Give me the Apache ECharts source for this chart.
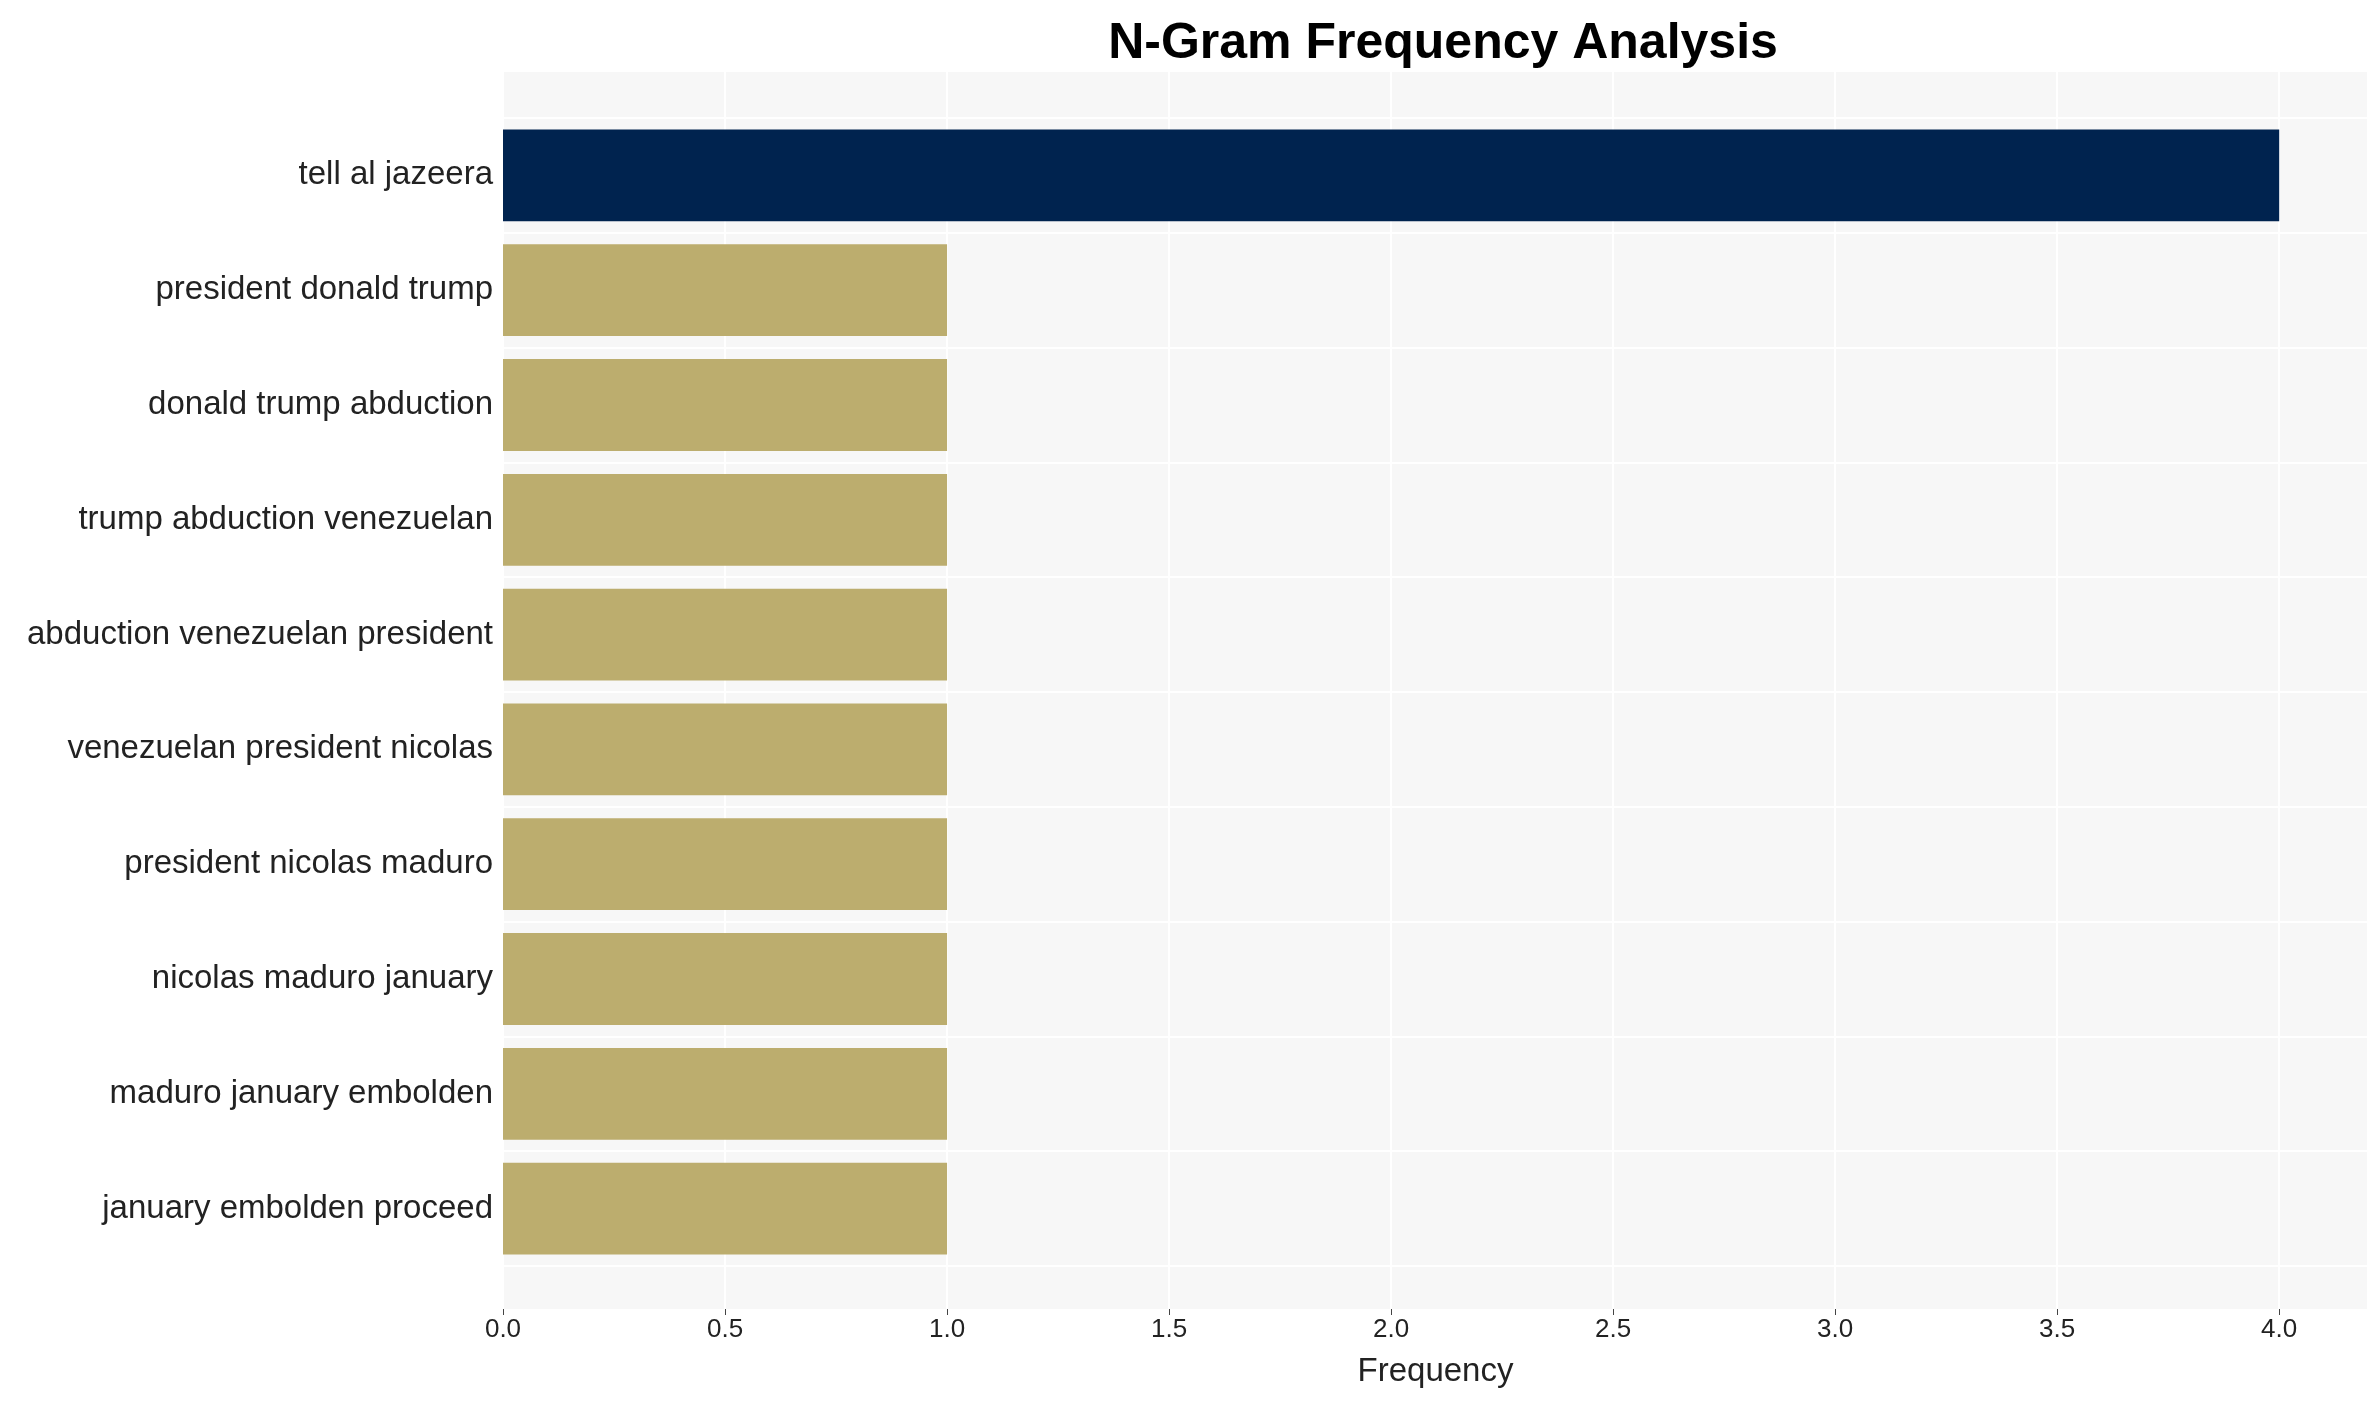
<!DOCTYPE html>
<html>
<head>
<meta charset="utf-8">
<script src="https://cdn.jsdelivr.net/npm/echarts@6/dist/echarts.min.js"></script>
<style>html,body{margin:0;padding:0;background:#fff}#chart{width:2380px;height:1402px}</style>
</head>
<body>
<div id="chart"></div>
<script>
// top to bottom as in the picture
const categories = ['tell al jazeera', 'president donald trump', 'donald trump abduction', 'trump abduction venezuelan',
    'abduction venezuelan president', 'venezuelan president nicolas', 'president nicolas maduro',
    'nicolas maduro january', 'maduro january embolden', 'january embolden proceed'];
const frequencies = [4, 1, 1, 1, 1, 1, 1, 1, 1, 1];

const font = 'Liberation Sans, Arial';
let chart = echarts.init(document.getElementById('chart'));
chart.setOption({
    title: {
        text: 'N-Gram Frequency Analysis',
        left: 1438, top: 14, textAlign: 'center',
        textStyle: { fontFamily: font, fontWeight: 'bold', fontSize: 50, color: '#000' }
    },
    grid: [
        // outer plot panel (background + x axis)
        { left: 503, right: 12, top: 72, bottom: 93, backgroundColor: '#f7f7f7', show: true, borderWidth: 0 },
        // inner band for the bars, padded top and bottom
        { left: 503, right: 12, top: 118, bottom: 136 }
    ],
    xAxis: [{
        gridIndex: 0, type: 'value', min: 0, max: 4.2, interval: 0.5,
        name: 'Frequency', nameLocation: 'middle', nameGap: 46,
        nameTextStyle: { fontFamily: font, fontSize: 33, color: '#222' },
        axisLine: { show: false },
        axisTick: { show: true, length: 6, lineStyle: { color: '#444' } },
        axisLabel: {
            fontFamily: font, fontSize: 26, color: '#222', margin: 8,
            showMaxLabel: false,
            formatter: v => v.toFixed(1)
        },
        splitLine: { show: true, lineStyle: { color: '#ffffff', width: 2 } }
    }, {
        gridIndex: 1, type: 'value', min: 0, max: 4.2, show: false
    }],
    yAxis: [{
        gridIndex: 0, type: 'value', show: false
    }, {
        gridIndex: 1, type: 'category', data: categories, inverse: true,
        axisLine: { show: false }, axisTick: { show: false },
        axisLabel: { fontFamily: font, fontSize: 33, color: '#222', margin: 10 },
        splitLine: { show: true, lineStyle: { color: '#ffffff', width: 2 } }
    }],
    series: [{
        type: 'bar', xAxisIndex: 1, yAxisIndex: 1,
        data: frequencies.map((v, i) => ({ value: v, itemStyle: { color: i === 0 ? '#00234f' : '#bcad6e' } })),
        barCategoryGap: '20%'
    }]
});
</script>
</body>
</html>
